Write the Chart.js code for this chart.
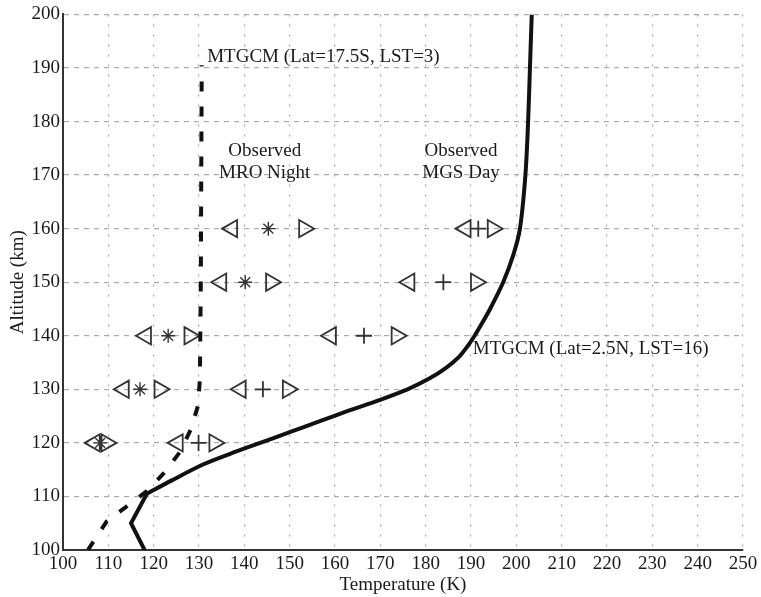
<!DOCTYPE html>
<html>
<head>
<meta charset="utf-8">
<script src="https://cdn.jsdelivr.net/npm/chart.js@4/dist/chart.umd.min.js"></script>
<style>
  html, body { margin: 0; padding: 0; background: #fff; }
  #wrap { width: 761px; height: 597px; }
</style>
</head>
<body>
<div id="wrap"><canvas id="tempProfile"></canvas></div>
<script>
// MTGCM model profiles (temperature K, altitude km)
const dayModelTemp = [118, 115, 118.5, 124, 131, 137, 143.5, 150, 156.5, 163, 169.8, 176, 180.8, 184.5, 187.3, 189.2, 190.8, 192.2, 194.2, 197.1, 199.3, 200.8, 202, 202.6, 203, 203.4];
const dayModelAlt  = [100, 105, 110.5, 113, 116, 118, 120, 122, 124, 126, 128, 130, 132, 134, 136, 138, 140, 142, 145, 150, 155, 160, 170, 180, 190, 200];
const dayKink = 2; // below this index the profile is straight segments

const nightModelTemp = [105.5, 109.6, 114, 118.5, 122.5, 125.8, 128.2, 129.8, 130.2, 130.4, 130.6];
const nightModelAlt  = [100, 105.3, 108.1, 111, 114.6, 118.3, 122.5, 127, 132, 150, 190.5];

// Observed profiles: centre value with lower / upper bounds
const obsAlt = [160, 150, 140, 130, 120];
const mroNightTemp = [145.3, 140.2, 123.2, 117.0, 108.2];
const mroNightLow  = [137.3, 134.9, 118.3, 113.4, 107.0];
const mroNightHigh = [153.2, 145.9, 127.9, 121.3, 109.6];
const mgsDayTemp = [191.6, 183.9, 166.4, 144.1, 129.9];
const mgsDayLow  = [188.8, 176.4, 159.1, 139.2, 125.3];
const mgsDayHigh = [194.8, 191.1, 173.6, 149.6, 133.4];

const toPoints = (xs, ys) => xs.map((x, i) => ({ x: x, y: ys[i] }));

const serif = '"Liberation Serif", "Times New Roman", serif';
const ink = '#1a1a1a';
const markerInk = '#333';

function lineSet(points, dash, tension) {
    return {
        data: points,
        showLine: true,
        borderColor: '#111',
        borderWidth: 4,
        borderDash: dash || [],
        pointRadius: 0,
        tension: tension || 0
    };
}

function markerSet(xs, style, radius, rotation, width) {
    return {
        data: toPoints(xs, obsAlt),
        showLine: false,
        pointStyle: style,
        pointRadius: radius,
        pointHoverRadius: radius,
        pointRotation: rotation || 0,
        pointBorderWidth: width || 1.8,
        pointBorderColor: markerInk,
        pointBackgroundColor: 'rgba(0,0,0,0)'
    };
}

// text labels placed in data coordinates
const labels = [
    { text: 'MTGCM (Lat=17.5S, LST=3)', x: 131.8, y: 192.0, align: 'left' },
    { text: 'Observed', x: 144.5, y: 174.4, align: 'center' },
    { text: 'MRO Night', x: 144.5, y: 170.3, align: 'center' },
    { text: 'Observed', x: 187.8, y: 174.4, align: 'center' },
    { text: 'MGS Day', x: 187.8, y: 170.3, align: 'center' },
    { text: 'MTGCM (Lat=2.5N, LST=16)', x: 190.4, y: 137.5, align: 'left' }
];

const textPlugin = {
    id: 'profileText',
    afterDatasetsDraw(chart) {
        const { ctx, scales } = chart;
        ctx.save();
        ctx.font = '19px ' + serif;
        ctx.fillStyle = ink;
        ctx.textBaseline = 'middle';
        labels.forEach(l => {
            ctx.textAlign = l.align;
            ctx.fillText(l.text, scales.x.getPixelForValue(l.x), scales.y.getPixelForValue(l.y));
        });
        ctx.restore();
    }
};

const dayPoints = toPoints(dayModelTemp, dayModelAlt);

new Chart(document.getElementById('tempProfile'), {
    type: 'scatter',
    data: {
        datasets: [
            lineSet(dayPoints.slice(0, dayKink + 1)),
            lineSet(dayPoints.slice(dayKink), null, 0.3),
            lineSet(toPoints(nightModelTemp, nightModelAlt), [10, 15]),
            markerSet(mroNightTemp, 'star', 7, 0, 1.4),
            markerSet(mroNightLow, 'triangle', 10, -90),
            markerSet(mroNightHigh, 'triangle', 10, 90),
            markerSet(mgsDayTemp, 'cross', 8, 0, 1.8),
            markerSet(mgsDayLow, 'triangle', 10, -90),
            markerSet(mgsDayHigh, 'triangle', 10, 90)
        ]
    },
    options: {
        responsive: true,
        maintainAspectRatio: false,
        animation: false,
        layout: { padding: { top: 14, right: 18, left: 0, bottom: 0 } },
        plugins: {
            legend: { display: false },
            tooltip: { enabled: false }
        },
        scales: {
            x: {
                type: 'linear',
                min: 100,
                max: 250,
                afterFit: s => { s.height = 47; },
                ticks: { stepSize: 10, padding: 3, color: ink, font: { family: serif, size: 19 } },
                grid: { color: '#aaa', lineWidth: 1.2, drawTicks: false },
                border: { display: true, color: '#333', width: 2, dash: [2, 8] },
                title: {
                    display: true,
                    text: 'Temperature (K)',
                    color: ink,
                    font: { family: serif, size: 19 },
                    padding: { top: 0, bottom: 1 }
                }
            },
            y: {
                type: 'linear',
                min: 100,
                max: 200,
                afterFit: s => { s.width = 63; },
                ticks: { stepSize: 10, padding: 3, color: ink, font: { family: serif, size: 19 } },
                grid: { color: '#aaa', lineWidth: 1.2, drawTicks: false },
                border: { display: true, color: '#333', width: 2, dash: [5, 5] },
                title: {
                    display: true,
                    text: 'Altitude (km)',
                    color: ink,
                    font: { family: serif, size: 19 },
                    padding: { top: 7, bottom: 0 }
                }
            }
        }
    },
    plugins: [textPlugin]
});
</script>
</body>
</html>
